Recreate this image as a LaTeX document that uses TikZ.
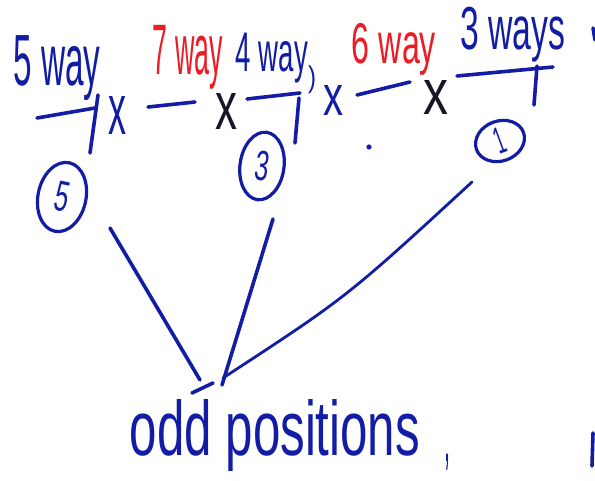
\documentclass[tikz,border=0pt]{standalone}
\usepackage{fontspec}
\setmainfont{Liberation Sans}
\usetikzlibrary{shapes.geometric}
\definecolor{ink}{RGB}{18,28,165}
\definecolor{redink}{RGB}{235,28,36}
\definecolor{blackink}{RGB}{25,20,40}
\tikzset{
  txt/.style={inner sep=0pt, outer sep=0pt, text=ink},
  redtxt/.style={txt, text=redink},
  blktxt/.style={txt, text=blackink},
  pen/.style={draw=ink, line width=3.6pt, line cap=round, line join=round},
  thinpen/.style={pen, line width=2.8pt},
  blank/.style={pen},
  ring/.style={draw=ink, line width=3.2pt, ellipse, inner sep=0pt, text=ink}
}
\newcommand{\fitbox}[3]{\resizebox*{#1pt}{#2pt}{#3}}
\begin{document}
\begin{tikzpicture}[x=1pt,y=-1pt]
\useasboundingbox (0,0) rectangle (595,480);
% slot labels
\node[txt]    (w5) at (57,68)  {\fitbox{87}{65}{5 way}};
\node[redtxt] (w7) at (188,57) {\fitbox{70}{64}{7 way}};
\node[txt]    (w4) at (272,58) {\fitbox{72}{50}{4 way}};
\node[redtxt] (w6) at (394,49) {\fitbox{84}{52}{6 way}};
\node[txt]    (w3) at (513,35) {\fitbox{105}{55}{3 ways}};
% multiplication signs
\node[blktxt] (x2) at (226,111) {\fitbox{22}{36}{x}};
\node[txt]    (x1) at (117,115) {\fitbox{18}{38}{x}};
\node[txt]    (p3) at (312,80)  {\fitbox{8}{28}{)}};
\node[txt]    (x3) at (333,100) {\fitbox{20}{30}{x}};
\node[blktxt] (x4) at (436,97)  {\fitbox{25}{34}{x}};
% blanks
\coordinate (b1a) at (37,118);  \coordinate (b1b) at (95,108);
\coordinate (b2a) at (148,107); \coordinate (b2b) at (195,102);
\coordinate (b3a) at (247,99);  \coordinate (b3b) at (300,93);
\coordinate (b4a) at (357,95);  \coordinate (b4b) at (410,82);
\coordinate (b5a) at (457,76);  \coordinate (b5b) at (553,67);
\draw[blank] (b1a) -- (b1b);
\draw[blank] (b2a) -- (b2b);
\draw[blank] (b3a) -- (b3b);
\draw[blank] (b4a) -- (b4b);
\draw[blank] (b5a) -- (b5b);
% descending tails
\coordinate (t1a) at (98,95);  \coordinate (t1b) at (90,153);
\coordinate (t3a) at (299,98); \coordinate (t3b) at (295,143);
\coordinate (t5a) at (537,66); \coordinate (t5b) at (534,105);
\draw[pen] (t1a) -- (t1b);
\draw[pen] (t3a) -- (t3b);
\draw[pen] (t5a) -- (t5b);
% circled counts
\node[ring, minimum width=48pt, minimum height=70pt, rotate=-12] (c5) at (62,197) {\fitbox{14}{30}{5}};
\node[ring, minimum width=44pt, minimum height=68pt, rotate=-8]  (c3) at (262,166) {\fitbox{14}{30}{3}};
\node[ring, minimum width=50pt, minimum height=40pt, rotate=20]  (c1) at (500,141) {\fitbox{10}{26}{1}};
% dot
\fill[ink] (369,147) circle (2.6pt);
\coordinate (dot) at (369,147);
% connectors to the odd positions
\coordinate (s5) at (110,228);
\coordinate (s3) at (273,219);
\coordinate (s1) at (472,182);
\coordinate (e5) at (200,380);
\coordinate (e3) at (222,385);
\coordinate (e1) at (223,378);
\coordinate (k1) at (192,393);
\coordinate (k2) at (213,383);
\draw[pen] (s5) -- (e5);
\draw[pen] (s3) -- (e3);
\draw[thinpen] (s1) .. controls (347,297) .. (e1);
\draw[pen] (k1) -- (k2);
% caption
\node[txt] (odd) at (275,436) {\fitbox{290}{72}{odd positions}};
\node[txt] (comma) at (447,462) {\fitbox{6}{16}{,}};
% marks at the right edge
\coordinate (m1) at (593,28); \coordinate (m2) at (595,40);
\coordinate (m3) at (593,433); \coordinate (m4) at (592,466);
\draw[pen] (m1) -- (m2);
\draw[pen] (m3) -- (m4);
\end{tikzpicture}
\end{document}
